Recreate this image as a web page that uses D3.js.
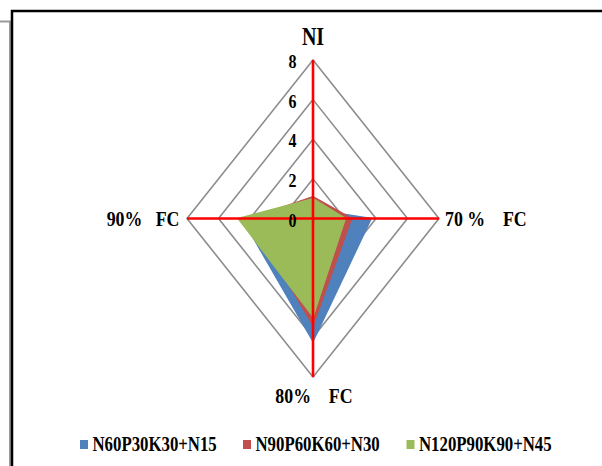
<!DOCTYPE html>
<html>
<head>
<meta charset="utf-8">
<script src="https://cdn.jsdelivr.net/npm/d3@7"></script>
<style>
  html, body { margin: 0; padding: 0; background: #fff; }
  svg text { font-family: "Liberation Serif", "Times New Roman", serif; font-weight: bold; white-space: pre; fill: #000; }
</style>
</head>
<body>
<svg id="chart" width="602" height="466"></svg>
<script>
// Radar axes, clockwise from the top
const axes = ["NI", "70 %    FC", "80%    FC", "90%   FC"];
const ticks = [0, 2, 4, 6, 8];

const seriesNames = ["N60P30K30+N15", "N90P60K60+N30", "N120P90K90+N45"];
const seriesColors = ["#4F81BD", "#C0504D", "#9BBB59"];
const blueValues  = [0.45, 3.7, 6.2, 4.5];
const redValues   = [1.1, 2.45, 5.4, 4.0];
const greenValues = [1.0, 2.05, 4.95, 4.75];
const seriesValues = [blueValues, redValues, greenValues];

const svg = d3.select("#chart");
const cx = 313, cy = 218.5;
const r = d3.scaleLinear().domain([0, 8]).range([0, 158.5]);
const kx = 0.795; // horizontal squeeze of the plot
const angle = d3.scaleLinear().domain([0, axes.length]).range([0, 2 * Math.PI]);
const pt = (i, v) => [cx + r(v) * Math.sin(angle(i)) * kx, cy - r(v) * Math.cos(angle(i))];

// outer frame
svg.append("path").attr("d", "M0,21.5 H10 V466").attr("fill", "none").attr("stroke", "#9a9a9a").attr("stroke-width", 2);
svg.append("path").attr("d", "M12,466 V11 H602").attr("fill", "none").attr("stroke", "#000").attr("stroke-width", 2.5);

// condensed text helper
function label(g, x, y, txt, size, anchor, sx, baseline) {
  return g.append("text")
    .attr("transform", `translate(${x},${y}) scale(${sx},1)`)
    .attr("text-anchor", anchor)
    .attr("dominant-baseline", baseline || "auto")
    .style("font-size", size + "px")
    .text(txt);
}

// grid rings
const ring = d3.line();
svg.append("g").selectAll("path").data(ticks.filter(t => t > 0)).join("path")
  .attr("d", t => ring(axes.map((_, i) => pt(i, t))) + "Z")
  .attr("fill", "none").attr("stroke", "#8c8c8c").attr("stroke-width", 1.6);

// series areas
svg.append("g").selectAll("path").data(seriesValues).join("path")
  .attr("d", vals => ring(vals.map((v, i) => pt(i, v))) + "Z")
  .attr("fill", (_, k) => seriesColors[k])
  .attr("stroke", (_, k) => seriesColors[k]).attr("stroke-width", 1.5)
  .attr("stroke-linejoin", "round");

// spokes
svg.append("g").selectAll("line").data(axes).join("line")
  .attr("x1", cx).attr("y1", cy)
  .attr("x2", (_, i) => pt(i, 8)[0]).attr("y2", (_, i) => pt(i, 8)[1])
  .attr("stroke", "#ff0000").attr("stroke-width", 2.6);

// tick labels
const tg = svg.append("g");
ticks.forEach(t => label(tg, 296.5, cy - r(t) + 1.5, String(t), 19.5, "end", 0.82, "central"));

// axis titles
const ag = svg.append("g");
label(ag, cx, 45, axes[0], 25, "middle", 0.8);
label(ag, 445, 225.5, axes[1], 21, "start", 0.85);
label(ag, 314, 403, axes[2], 21, "middle", 0.85);
label(ag, 179.5, 225.5, axes[3], 21, "end", 0.85);

// legend
const legendX = [80, 243, 406.5];
const lg = svg.append("g");
seriesNames.forEach((name, k) => {
  lg.append("rect").attr("x", legendX[k]).attr("y", 440).attr("width", 8).attr("height", 9)
    .attr("fill", seriesColors[k]);
  label(lg, legendX[k] + 12.5, 451, name, 21, "start", 0.8);
});
</script>
</body>
</html>
